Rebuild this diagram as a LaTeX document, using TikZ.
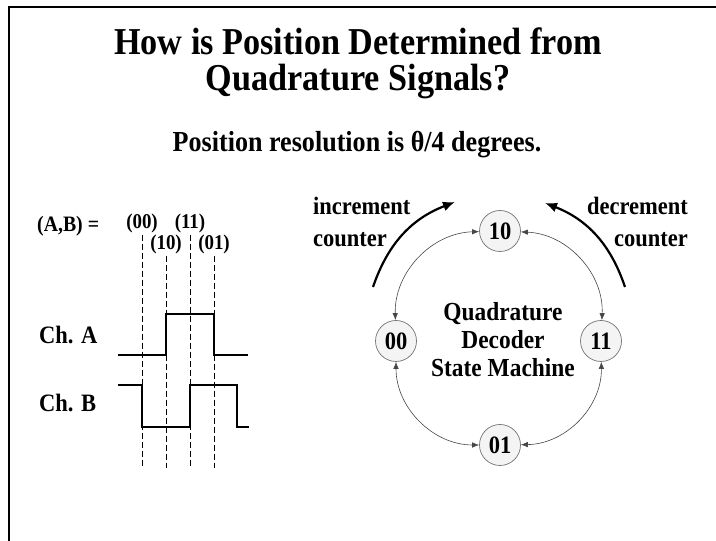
\documentclass[tikz,border=0pt]{standalone}
\usepackage{fontspec}
\setmainfont{Liberation Serif}[FakeStretch=0.9]
\usepackage{xcolor}
\usepackage{tikz}
\usetikzlibrary{positioning,arrows.meta}
\definecolor{stategray}{RGB}{244,244,244}
\definecolor{rimgray}{RGB}{115,115,115}
\definecolor{arcgray}{RGB}{70,70,70}
\newcommand{\fsz}[2]{\fontsize{#1}{#2}\selectfont\bfseries}
\tikzset{
  headline/.style = {anchor=base, inner sep=0pt, font=\fsz{38}{42}},
  subline/.style  = {anchor=base, inner sep=0pt, font=\fsz{29}{32}},
  lbl/.style      = {anchor=base, inner sep=1pt, font=\fsz{21}{23}},
  chlbl/.style    = {anchor=base west, inner sep=0pt, font=\fsz{25}{28}},
  note/.style     = {inner sep=0pt, font=\fsz{25}{32}},
  state/.style    = {circle, draw=rimgray, fill=stategray, line width=0.7pt, minimum size=41pt, inner sep=0pt, font=\fsz{25}{27}},
  guide/.style    = {dash pattern=on 6pt off 3pt, line width=0.8pt},
  sig/.style      = {line width=1.1pt},
  flow/.style     = {{Latex[length=7pt,width=5.5pt]}-{Latex[length=7pt,width=5.5pt]}, draw=arcgray, line width=0.6pt},
  bigflow/.style  = {-{Latex[length=12pt,width=10pt]}, line width=2.2pt},
}

\begin{document}
\begin{tikzpicture}[x=1pt, y=1pt]
  \useasboundingbox (0,0) rectangle (716,541);
  \draw[line width=1.5pt] (9,0) -- (9,534) -- (716,534);

  \node[headline] (head1) at (358,486) {How is Position Determined from};
  \node[headline] (head2) at (358,450) {Quadrature Signals?};
  \node[subline] (res) at (357,389) {Position resolution is θ/4 degrees.};

  % timing diagram
  \node[lbl, anchor=base west, font=\fsz{22}{24}] (ab) at (36,309) {(A,B) =};
  \node[lbl] (t00) at (142,312) {(00)};
  \node[lbl] (t11) at (190,312) {(11)};
  \node[lbl] (t10) at (166,291) {(10)};
  \node[lbl] (t01) at (214,291) {(01)};
  \coordinate (bot) at (0,73);
  \foreach \s in {00,10,11,01}
    \draw[guide] (t\s.south) -- (t\s.south |- bot);

  \node[chlbl] (cha) at (39,197) {Ch. A};
  \node[chlbl] (chb) at (39,129) {Ch. B};
  \draw[sig] (118,186) -- (166,186) -- (166,227) -- (214,227) -- (214,186) -- (248,186);
  \draw[sig] (118,156) -- (142,156) -- (142,114) -- (190,114) -- (190,156) -- (237,156) -- (237,114) -- (249,114);

  % state machine
  \node[state] (s10) at (500,310) {10};
  \node[state] (s00) at (396,200) {00};
  \node[state] (s11) at (601,200) {11};
  \node[state] (s01) at (500,96) {01};
  \node[align=center, inner sep=0pt, font=\fsz{26}{28}] (fsm) at (503,201) {Quadrature\\Decoder\\State Machine};

  \draw[flow] (s10) to[bend right=45] (s00);
  \draw[flow] (s10) to[bend left=45] (s11);
  \draw[flow] (s00) to[bend right=45] (s01);
  \draw[flow] (s11) to[bend left=45] (s01);

  \coordinate (incS) at (373,254);
  \coordinate (incE) at (455,339);
  \coordinate (decS) at (625,254);
  \coordinate (decE) at (545,338);
  \draw[bigflow] (incS) to[bend left=25] (incE);
  \draw[bigflow] (decS) to[bend right=25] (decE);
  \node[note, align=left, anchor=north west] (inc) at (313,344) {increment\\counter};
  \node[note, align=right, anchor=north east] (dec) at (688,344) {decrement\\counter};
\end{tikzpicture}
\end{document}
